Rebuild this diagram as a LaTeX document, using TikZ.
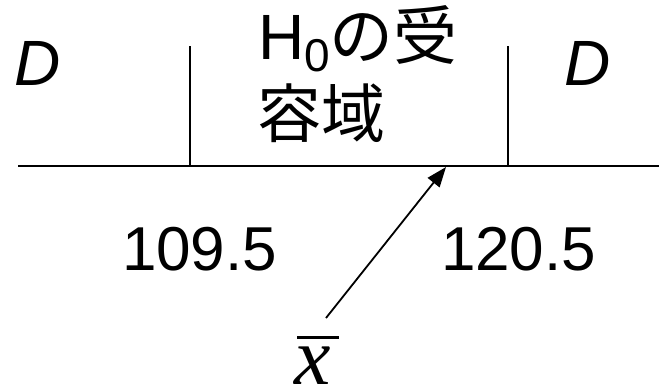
\documentclass[tikz,border=0pt]{standalone}
\usepackage{fontspec}
\setmainfont{Liberation Sans}
\newfontfamily\cjk{Noto Sans CJK JP}
\newfontfamily\tnr{Liberation Serif}
\usetikzlibrary{arrows.meta}
\tikzset{
  lbl/.style={inner sep=0pt, outer sep=0pt, anchor=base west, font=\fontsize{64}{70}\selectfont},
  num/.style={inner sep=0pt, outer sep=0pt, anchor=base west, font=\fontsize{62}{70}\selectfont},
  axis/.style={line width=2pt},
  tick/.style={line width=1.4pt},
  pointer/.style={line width=1.8pt, -{Triangle[length=20pt,width=15pt]}}
}
\begin{document}
\begin{tikzpicture}[x=1pt,y=-1pt]
\useasboundingbox (0,0) rectangle (659,389);
% axis and boundaries
\coordinate (axL) at (18,166);
\coordinate (axR) at (659,166);
\coordinate (b1top) at (190,46);
\coordinate (b1bot) at (190,166);
\coordinate (b2top) at (508,46);
\coordinate (b2bot) at (508,166);
\draw[axis] (axL) -- (axR);
\draw[tick] (b1top) -- (b1bot);
\draw[tick] (b2top) -- (b2bot);
% labels
\node[lbl] (dl) at (14,85) {\itshape D};
\node[lbl] (dr) at (564,85) {\itshape D};
\node[lbl] (acc1) at (258,59) {H\raisebox{-0.2em}{\fontsize{46}{46}\selectfont 0}{\cjk の受}};
\node[lbl] (acc2) at (257,137) {\cjk 容域};
\node[num] (n1) at (122,270) {109.5};
\node[num] (n2) at (441,270) {120.5};
% x bar
\node[inner sep=0pt, outer sep=0pt, anchor=base west, font=\tnr\itshape\fontsize{82}{82}\selectfont] (xbar) at (294,384) {\rlap{\kern3pt\raisebox{45.5pt}{\rule{42pt}{3pt}}}x};
% arrow
\coordinate (tail) at (326,318);
\coordinate (tip) at (446,167);
\draw[pointer] (tail) -- (tip);
\end{tikzpicture}
\end{document}
